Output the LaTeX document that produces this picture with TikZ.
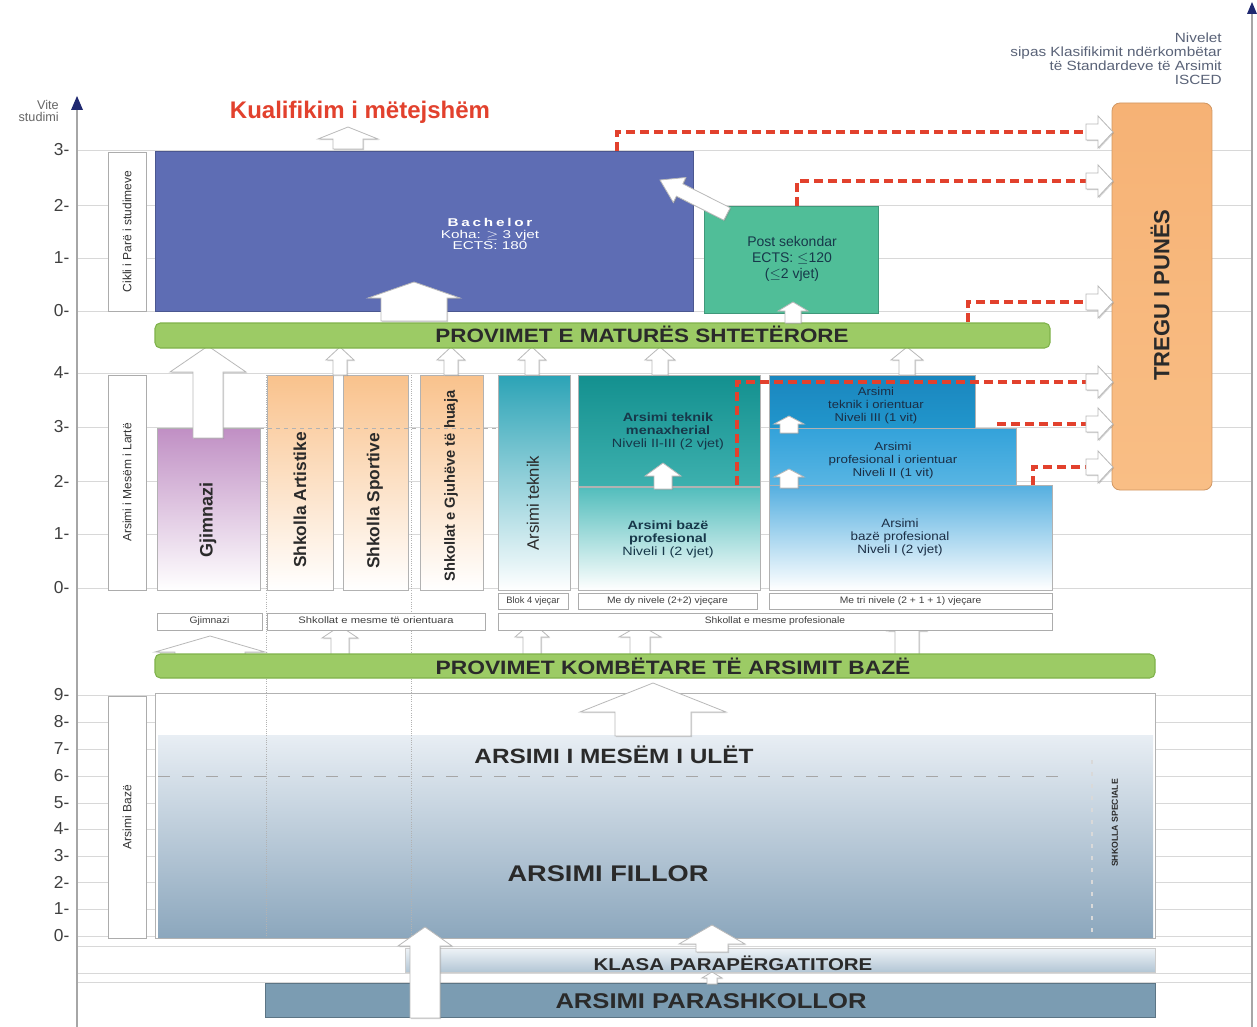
\documentclass[tikz,border=0pt]{standalone}
\usepackage{fontspec}
\usepackage{graphicx}
\setmainfont{Liberation Sans}
\usetikzlibrary{shadows}
\definecolor{bach}{HTML}{5E6DB4}
\definecolor{postc}{HTML}{50BE98}
\definecolor{greenbar}{HTML}{9CCB65}
\definecolor{greenbd}{HTML}{7FB24A}
\definecolor{redd}{HTML}{E2412D}
\definecolor{orngT}{HTML}{F6B275}
\definecolor{orngB}{HTML}{F9BE85}
\definecolor{purp}{HTML}{C08FC4}
\definecolor{orlight}{HTML}{F9C28C}
\definecolor{tealA}{HTML}{2BA3B6}
\definecolor{tealM}{HTML}{13908F}
\definecolor{tealM2}{HTML}{3DB0AE}
\definecolor{tealB}{HTML}{52BDBC}
\definecolor{blueA}{HTML}{1A86BE}
\definecolor{blueA2}{HTML}{2196CC}
\definecolor{blueB}{HTML}{33A2DA}
\definecolor{blueB2}{HTML}{58B5E3}
\definecolor{blueC}{HTML}{55AFE0}
\definecolor{basicT}{HTML}{E8EEF4}
\definecolor{basicB}{HTML}{8CA7BD}
\definecolor{klasT}{HTML}{EEF3F7}
\definecolor{klasB}{HTML}{B3C6D5}
\definecolor{presch}{HTML}{7B9CB2}
\definecolor{navy}{HTML}{1F2870}
\definecolor{txt}{HTML}{2A2A2A}
\definecolor{gridc}{HTML}{D8D8D8}
\definecolor{isced}{HTML}{5A6378}
\definecolor{darkteal}{HTML}{17384A}
\definecolor{darkblue}{HTML}{1B2E45}
\newcommand\fsz[2]{\fontsize{#1}{#2}\selectfont}
% horizontal stretch of a (multi-line) text
\newcommand\hs[2]{\scalebox{#1}[1]{\begin{tabular}{@{}c@{}}#2\end{tabular}}}
% box node: name, x1, y1, x2, y2, style, text
\newcommand\bx[7]{\node[#6, minimum width={(#4-#2)*0.75pt}, minimum height={(#5-#3)*0.75pt}, inner sep=0pt, outer sep=0pt] (#1) at ({(#2+#4)/2},{(#3+#5)/2}) {#7};}
% up arrow: cx, tip y, head-base y, bottom y, head half width, body half width
\newcommand\WUp[6]{\filldraw[warrow] (#1,#2) -- (#1+#5,#3) -- (#1+#6,#3) -- (#1+#6,#4) -- (#1-#6,#4) -- (#1-#6,#3) -- (#1-#5,#3) -- cycle;}
% right arrow: cy, tip x, head-base x, start x, head half, body half
\newcommand\WRt[6]{\filldraw[warrow] (#2,#1) -- (#3,#1-#5) -- (#3,#1-#6) -- (#4,#1-#6) -- (#4,#1+#6) -- (#3,#1+#6) -- (#3,#1+#5) -- cycle;}
\begin{document}
\begin{tikzpicture}[x=0.75pt,y=-0.75pt,
  lblbox/.style={draw=gray!65, fill=white, line width=0.7pt},
  smallbox/.style={draw=gray!65, fill=white, line width=0.6pt, font=\fsz{7}{8}, text=black!75},
  warrow/.style={fill=white, draw=gray!55, line width=0.6pt, drop shadow={shadow xshift=0.8pt, shadow yshift=-0.8pt, opacity=0.35, fill=black!50}},
  reddash/.style={draw=redd, line width=3pt, dash pattern=on 7pt off 3.5pt},
  gbar/.style={draw=greenbd, line width=0.8pt, fill=greenbar, rounded corners=4pt},
  gtext/.style={font=\bfseries\fsz{14.5}{16}, text=txt},
  colbox/.style={draw=gray!60, line width=0.6pt},
  ticklab/.style={font=\fsz{13}{15}, text=black!75, anchor=east, inner sep=1pt},
  vtxt/.style={rotate=90, font=\fsz{9}{10}, text=black!80},
  coltxt/.style={rotate=90, font=\bfseries\fsz{13}{15}, text=txt},
  boxtxt/.style={font=\fsz{9}{9.6}, align=center, inner sep=0pt}
]
\useasboundingbox (0,0) rectangle (1257,1027);
\fill[white] (0,0) rectangle (1257,1027);

% ---------- grid ----------
\foreach \yy in {150,205,258,311,373,427,481,534,588,695,722,749,776,803,829,856,882,909,936}
  \draw[gridc, line width=0.6pt] (77,\yy) -- (1252,\yy);
\draw[gridc, line width=0.6pt] (77,946) -- (1252,946);
\draw[gridc, line width=0.6pt] (77,973) -- (1252,973);
\draw[gridc, line width=0.6pt] (77,982) -- (1252,982);

% ---------- axes ----------
\draw[gray!70, line width=1pt] (77,108) -- (77,1027);
\fill[navy] (77,96) -- (83,110) -- (71,110) -- cycle;
\draw[gray!70, line width=1pt] (1252,12) -- (1252,1027);
\fill[navy] (1252,2) -- (1257,14) -- (1247,14) -- cycle;
\node[font=\fsz{9.5}{8.5}, text=black!60, align=right, anchor=east, inner sep=0pt] (vite) at (59,111) {Vite\\studimi};

\foreach \yy/\lab in {150/3,205/2,258/1,311/0,373/4,427/3,481/2,534/1,588/0,695/9,722/8,749/7,776/6,803/5,829/4,856/3,882/2,909/1,936/0}
  \node[ticklab] (tick\yy) at (71,\yy) {\lab-};

% ---------- ISCED label ----------
\node[font=\fsz{10}{10.2}, text=isced, align=right, anchor=north east, inner sep=0pt] (iscedlab) at (1222,33) {\scalebox{1.15}[1]{\begin{tabular}{@{}r@{}}Nivelet\\sipas Klasifikimit ndërkombëtar\\të Standardeve të Arsimit\\ISCED\end{tabular}}};

% ---------- left level boxes ----------
\bx{cikli}{108}{152}{146}{311}{lblbox}{}
\node[vtxt] (ciklit) at (cikli) {Cikli i Parë i studimeve};
\bx{mesem}{108}{375}{146}{590}{lblbox}{}
\node[vtxt] (mesemt) at (mesem) {Arsimi i Mesëm i Lartë};
\bx{baze}{108}{696}{146}{938}{lblbox}{}
\node[vtxt] (bazet) at (baze) {Arsimi Bazë};

% ---------- basic education ----------
\bx{basic}{155}{693}{1155}{938}{draw=gray!60, line width=0.7pt, fill=white}{}
\shade[top color=basicT, bottom color=basicB] (158,735) rectangle (1153,937);
\draw[gray!70, dashed, dash pattern=on 9pt off 9pt, line width=0.6pt] (158,776) -- (1062,776);
\draw[gray!60, densely dotted, line width=0.7pt] (266,375) -- (266,937);
\draw[gray!60, densely dotted, line width=0.7pt] (411,375) -- (411,937);
\draw[white!70!gray, dashed, dash pattern=on 3pt off 6pt, line width=0.8pt] (1092,760) -- (1092,937);
\node[font=\bfseries\fsz{15.5}{17}, text=txt] (ulet) at (614,758) {\hs{1.18}{ARSIMI I MESËM I ULËT}};
\node[font=\bfseries\fsz{17}{19}, text=txt] (fillor) at (608,876) {\hs{1.2}{ARSIMI FILLOR}};
\node[rotate=90, font=\bfseries\fsz{6.5}{7.5}, text=txt] (speciale) at (1115,823) {SHKOLLA SPECIALE};
\WUp{653}{683}{712}{736}{73}{38}

% ---------- pre-school ----------
\shade[top color=klasT, bottom color=klasB, draw=gray!40] (405,948) rectangle (1155,972);
\node[font=\bfseries\fsz{12.8}{14}, text=txt] (klasa) at (733,966) {\hs{1.2}{KLASA PARAPËRGATITORE}};
\bx{presch}{265}{983}{1155}{1017}{fill=presch, draw=presch!75!black, line width=0.7pt}{}
\node[font=\bfseries\fsz{16}{18}, text=txt] (preschtxt) at (711,1004) {\hs{1.2}{ARSIMI PARASHKOLLOR}};
\WUp{425}{927}{946}{1018}{27}{15}
\WUp{712}{925}{944}{952}{33}{16}
\WUp{712}{972}{978}{984}{10}{5}

% ---------- national exams bar ----------
\WUp{210}{636}{652}{668}{55}{35}
\WUp{340}{626}{638}{660}{18}{9}
\WUp{532}{622}{637}{660}{17}{9}
\WUp{640}{625}{637}{660}{21}{10}
\WUp{907}{617}{631}{660}{20}{12}
\bx{kombbar}{155}{654}{1155}{678}{gbar}{}
\node[gtext] (kombt) at (673,669) {\hs{1.18}{PROVIMET KOMBËTARE TË ARSIMIT BAZË}};

% ---------- type label rows ----------
\bx{lgjim}{157}{613}{262}{630}{smallbox}{\hs{1.1}{Gjimnazi}}
\bx{lorient}{267}{613}{485}{630}{smallbox}{\hs{1.2}{Shkollat e mesme të orientuara}}
\bx{lprof}{498}{613}{1052}{630}{smallbox}{\hs{1.1}{Shkollat e mesme profesionale}}
\bx{lblok}{498}{593}{568}{609}{smallbox}{Blok 4 vjeçar}
\bx{ldy}{578}{593}{757}{609}{smallbox}{\hs{1.1}{Me dy nivele (2+2) vjeçare}}
\bx{ltri}{769}{593}{1052}{609}{smallbox}{\hs{1.1}{Me tri nivele (2 + 1 + 1) vjeçare}}

% ---------- upper secondary columns ----------
\bx{gjim}{157}{428}{260}{590}{colbox, top color=purp, bottom color=white}{}
\node[coltxt, font=\bfseries\fsz{13.5}{15}] (gjimt) at (208,520) {Gjimnazi};
\bx{art}{267}{375}{333}{590}{colbox, top color=orlight, bottom color=white}{}
\node[coltxt] (artt) at (300,500) {Shkolla Artistike};
\bx{sport}{343}{375}{408}{590}{colbox, top color=orlight, bottom color=white}{}
\node[coltxt] (sportt) at (375,501) {Shkolla Sportive};
\bx{gjuhe}{420}{375}{483}{590}{colbox, top color=orlight, bottom color=white}{}
\node[coltxt, font=\bfseries\fsz{11}{13}] (gjuhet) at (451,486) {Shkollat e Gjuhëve të huaja};
\draw[gray!60, dashed, line width=0.5pt] (260,428) -- (497,428);
\bx{teknik}{498}{375}{570}{590}{colbox, top color=tealA, bottom color=white}{}
\node[rotate=90, font=\fsz{12.5}{14}, text=txt] (teknikt) at (533,503) {Arsimi teknik};

\bx{menax}{578}{375}{760}{486}{colbox, top color=tealM, bottom color=tealM2}{}
\node[boxtxt, text=darkteal] (menaxt) at (668,432) {\hs{1.2}{\textbf{Arsimi teknik}\\\textbf{menaxherial}\\Niveli II-III (2 vjet)}};
\bx{bazprof1}{578}{487}{760}{590}{colbox, top color=tealB, bottom color=white}{}
\node[boxtxt, text=darkteal] (bazprof1t) at (668,540) {\hs{1.2}{\textbf{Arsimi bazë}\\\textbf{profesional}\\Niveli I (2 vjet)}};

\bx{bazprof2}{769}{485}{1052}{590}{colbox, top color=blueC, bottom color=white}{}
\node[boxtxt, text=darkblue, font=\fsz{9}{9.8}] (bazprof2t) at (900,538) {\hs{1.12}{Arsimi\\bazë profesional\\Niveli I (2 vjet)}};
\bx{profor}{769}{428}{1016}{485}{colbox, top color=blueB, bottom color=blueB2}{}
\node[boxtxt, text=darkblue, font=\fsz{8.5}{9.4}] (profort) at (893,461) {\hs{1.18}{Arsimi\\profesional i orientuar\\Niveli II (1 vit)}};
\bx{teknor}{769}{375}{975}{428}{colbox, top color=blueA, bottom color=blueA2}{}
\node[boxtxt, text=darkblue, font=\fsz{8.5}{9.4}] (teknort) at (876,406) {\hs{1.15}{Arsimi\\teknik i orientuar\\Niveli III (1 vit)}};

\WUp{663}{463}{476}{489}{18}{9}
\WUp{789}{416}{424}{433}{15}{9}
\WUp{789}{469}{477}{488}{15}{9}
\WUp{208}{346}{372}{438}{38}{15}

% ---------- arrows to matura bar ----------
\WUp{340}{347}{360}{375}{14}{7}
\WUp{451}{347}{360}{375}{14}{7}
\WUp{532}{347}{360}{375}{14}{7}
\WUp{660}{347}{360}{375}{15}{8}
\WUp{907}{347}{360}{375}{16}{8}

\bx{matbar}{155}{323}{1050}{348}{gbar}{}
\node[gtext] (matt) at (642,337) {\hs{1.16}{PROVIMET E MATURËS SHTETËRORE}};

% ---------- higher education ----------
\bx{bachbox}{155}{151}{693}{311}{fill=bach, draw=bach!80!black, line width=0.6pt}{}
\node[align=center, text=white, font=\fsz{8.5}{8.6}, inner sep=0pt] (bacht) at (490,236) {\hs{1.35}{{\bfseries\addfontfeature{LetterSpace=18}Bachelor}\\Koha: $\geq$ 3 vjet\\ECTS: 180}};
\bx{postbox}{704}{206}{878}{313}{fill=postc, draw=postc!80!black, line width=0.6pt}{}
\node[align=center, text=darkteal, font=\fsz{10.5}{12}] (postt) at (792,259) {Post sekondar\\ECTS: $\leq$120\\($\leq$2 vjet)};
\WUp{414}{282}{298}{321}{46}{33}
\WUp{793}{302}{311}{323}{15}{8}
\filldraw[warrow] (660,180) -- (685.9,177.5) -- (682.8,183.8) -- (730.2,207.8) -- (723.8,220.2) -- (676.4,196.2) -- (673.3,202.5) -- cycle;
\node[text=redd, font=\bfseries\fsz{18}{20}] (kual) at (360,112) {Kualifikim i mëtejshëm};
\WUp{348}{127}{139}{149}{30}{15}

% ---------- labour market ----------
\shade[top color=orngT, bottom color=orngB, draw=orngT!85!black, rounded corners=6pt, line width=0.6pt] (1112,103) rectangle (1212,490);
\node[rotate=90, font=\bfseries\fsz{16.5}{18}, text=txt] (tregu) at (1160,295) {TREGU I PUNËS};

\coordinate (r1) at (1086,132);
\coordinate (r2) at (1086,181);
\coordinate (r3) at (1086,302);
\coordinate (r4) at (1086,382);
\coordinate (r5) at (1086,424);
\coordinate (r6) at (1086,467);
\draw[reddash] (617,151) -- (617,132) -- (r1);
\draw[reddash] (797,206) -- (797,181) -- (r2);
\draw[reddash] (968,322) -- (968,302) -- (r3);
\draw[reddash] (737,485) -- (737,382) -- (r4);
\draw[reddash] (997,424) -- (r5);
\draw[reddash] (1033,485) -- (1033,467) -- (r6);
\WRt{132}{1113}{1098}{1086}{16}{8}
\WRt{181}{1113}{1098}{1086}{16}{8}
\WRt{302}{1113}{1098}{1086}{16}{8}
\WRt{382}{1113}{1098}{1086}{16}{8}
\WRt{424}{1113}{1098}{1086}{16}{8}
\WRt{467}{1113}{1098}{1086}{16}{8}
\end{tikzpicture}
\end{document}
